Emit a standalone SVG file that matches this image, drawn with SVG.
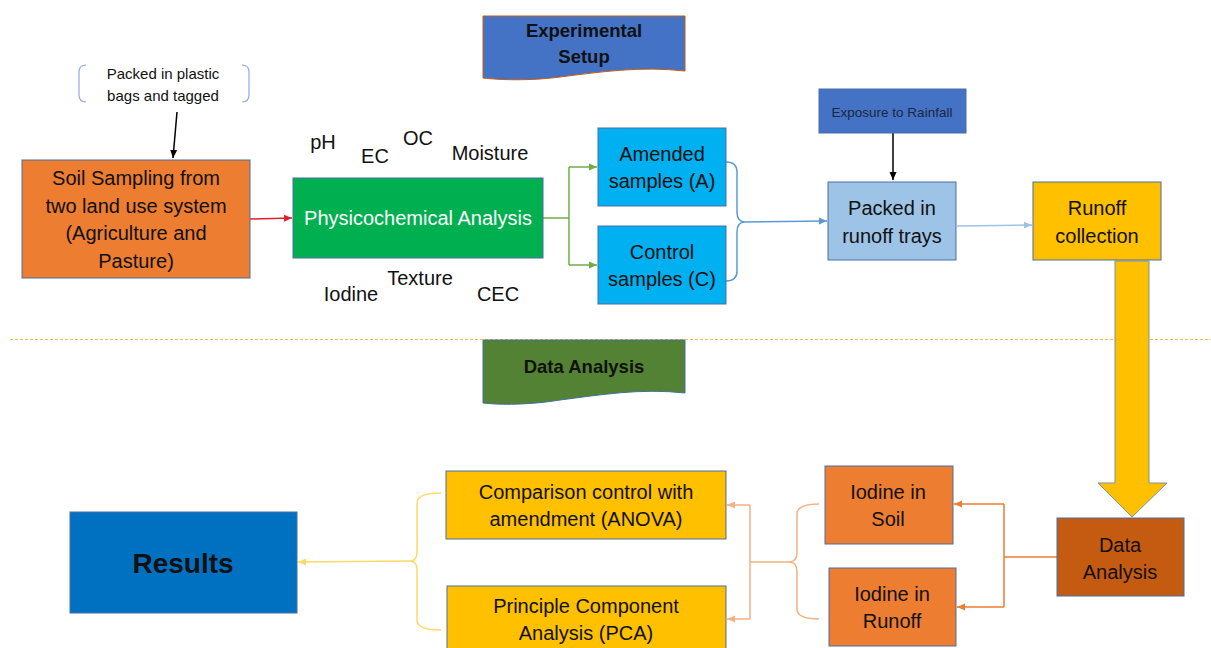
<svg xmlns="http://www.w3.org/2000/svg" width="1211" height="648" viewBox="0 0 1211 648">
<defs>
<style>
text{font-family:"Liberation Sans",Arial,sans-serif;text-anchor:middle;dominant-baseline:central;fill:#111}
.box{stroke:#4a6fa5;stroke-width:1}
.t20{font-size:20px}
.lbl{font-size:20px;fill:#111}
.ban{font-size:18.5px;font-weight:bold}
.c{fill:none}
</style>
<marker id="aBlack" markerWidth="10" markerHeight="10" refX="8" refY="5" orient="auto" markerUnits="userSpaceOnUse"><path d="M0,1.5 L8,5 L0,8.5 Z" fill="#000"/></marker>
<marker id="aRed" markerWidth="10" markerHeight="10" refX="8" refY="5" orient="auto" markerUnits="userSpaceOnUse"><path d="M0,1.5 L8,5 L0,8.5 Z" fill="#e0202a"/></marker>
<marker id="aGreen" markerWidth="10" markerHeight="10" refX="8" refY="5" orient="auto" markerUnits="userSpaceOnUse"><path d="M0,1.5 L8,5 L0,8.5 Z" fill="#70ad47"/></marker>
<marker id="aBlue" markerWidth="10" markerHeight="10" refX="8" refY="5" orient="auto" markerUnits="userSpaceOnUse"><path d="M0,1.5 L8,5 L0,8.5 Z" fill="#5b9bd5"/></marker>
<marker id="aLBlue" markerWidth="10" markerHeight="10" refX="8" refY="5" orient="auto" markerUnits="userSpaceOnUse"><path d="M0,1.5 L8,5 L0,8.5 Z" fill="#9dc3e6"/></marker>
<marker id="aOrange" markerWidth="10" markerHeight="10" refX="8" refY="5" orient="auto" markerUnits="userSpaceOnUse"><path d="M0,1.5 L8,5 L0,8.5 Z" fill="#ed7d31"/></marker>
<marker id="aPeach" markerWidth="10" markerHeight="10" refX="8" refY="5" orient="auto" markerUnits="userSpaceOnUse"><path d="M0,1.5 L8,5 L0,8.5 Z" fill="#f4b183"/></marker>
<marker id="aYellow" markerWidth="10" markerHeight="10" refX="8" refY="5" orient="auto" markerUnits="userSpaceOnUse"><path d="M0,1.5 L8,5 L0,8.5 Z" fill="#ffd966"/></marker>
</defs>
<rect width="1211" height="648" fill="#fff"/>

<line x1="10" y1="339.5" x2="1211" y2="339.5" stroke="#f5bd4a" stroke-width="1" stroke-dasharray="3 2"/>

<g id="banner-experimental">
<path d="M483 16 H685 V71 C640 66 600 72 560 77 C530 81 500 80 483 78 Z" fill="#4472c4" stroke="#c55a11" stroke-width="1"/>
<text class="ban" x="584" y="30">Experimental</text>
<text class="ban" x="584" y="56">Setup</text>
</g>

<g id="banner-data-analysis">
<path d="M483 340 H685 V393 C640 388 600 395 560 400 C530 405 500 405 483 403 Z" fill="#548235" stroke="#41719c" stroke-width="1"/>
<text class="ban" x="584" y="366">Data Analysis</text>
</g>

<g id="note-bags">
<path class="c" d="M86 65 Q79 65 79 72 V95 Q79 102 86 102" stroke="#8faadc" stroke-width="1.2"/>
<path class="c" d="M242 65 Q249 65 249 72 V95 Q249 102 242 102" stroke="#8faadc" stroke-width="1.2"/>
<text x="163" y="73" font-size="15" fill="#222">Packed in plastic</text>
<text x="163" y="95" font-size="15" fill="#222">bags and tagged</text>
</g>

<g id="params">
<text class="lbl" x="323" y="142">pH</text>
<text class="lbl" x="375" y="156">EC</text>
<text class="lbl" x="418" y="138">OC</text>
<text class="lbl" x="490" y="153">Moisture</text>
<text class="lbl" x="420" y="278">Texture</text>
<text class="lbl" x="351" y="294">Iodine</text>
<text class="lbl" x="498" y="294">CEC</text>
</g>

<g id="connectors" fill="none" stroke-width="1.5">
<line x1="177" y1="112" x2="173" y2="158" stroke="#000" marker-end="url(#aBlack)"/>
<line x1="250" y1="219" x2="292" y2="218" stroke="#e0202a" marker-end="url(#aRed)"/>
<path d="M543 218 H569" stroke="#70ad47"/>
<path d="M569 167 V265" stroke="#70ad47"/>
<path d="M569 167 H597" stroke="#70ad47" marker-end="url(#aGreen)"/>
<path d="M569 265 H597" stroke="#70ad47" marker-end="url(#aGreen)"/>
<path d="M726 162 Q737 162 737 172 V212 Q737 222 745 222 Q737 222 737 232 V271 Q737 281 726 281" stroke="#5b9bd5"/>
<path d="M745 222 L827 221" stroke="#5b9bd5" marker-end="url(#aBlue)"/>
<line x1="893" y1="133" x2="893" y2="180" stroke="#000" marker-end="url(#aBlack)"/>
<line x1="957" y1="226" x2="1032" y2="225" stroke="#9dc3e6" marker-end="url(#aLBlue)"/>
<path d="M1057 557 H1004" stroke="#ed7d31"/>
<path d="M1004 504 V607" stroke="#ed7d31"/>
<path d="M1004 504 H954" stroke="#ed7d31" marker-end="url(#aOrange)"/>
<path d="M1004 607 H957" stroke="#ed7d31" marker-end="url(#aOrange)"/>
<path d="M819 504 Q797 504 797 514 V552 Q797 562 789 562 Q797 562 797 572 V609 Q797 619 819 619" stroke="#f4b183"/>
<path d="M789 562 H750" stroke="#f4b183"/>
<path d="M750 505 V619" stroke="#f4b183"/>
<path d="M750 505 H727" stroke="#f4b183" marker-end="url(#aPeach)"/>
<path d="M750 619 H727" stroke="#f4b183" marker-end="url(#aPeach)"/>
<path d="M441 493 Q417 493 417 503 V552 Q417 561 410 561 Q417 561 417 570 V620 Q417 630 441 630" stroke="#ffd966"/>
<path d="M410 561 L298 562" stroke="#ffd966" marker-end="url(#aYellow)"/>
<path d="M1115 261 V483 H1098 L1132 517 L1167 483 H1149 V261 Z" fill="#ffc000" stroke="#7f8fa6" stroke-width="1"/>
</g>

<g id="soil-sampling">
<rect class="box" x="22" y="160" width="228" height="118" fill="#ed7d31"/>
<text class="t20" x="136" y="178">Soil Sampling from</text>
<text class="t20" x="136" y="206">two land use system</text>
<text class="t20" x="136" y="233">(Agriculture and</text>
<text class="t20" x="136" y="261">Pasture)</text>
</g>

<g id="physicochemical">
<rect class="box" x="293" y="178" width="250" height="80" fill="#00b050"/>
<text class="t20" x="418" y="218" style="fill:#fff">Physicochemical Analysis</text>
</g>

<g id="amended">
<rect class="box" x="598" y="128" width="128" height="78" fill="#00b0f0"/>
<text class="t20" x="662" y="154">Amended</text>
<text class="t20" x="662" y="181">samples (A)</text>
</g>

<g id="control">
<rect class="box" x="598" y="226" width="128" height="78" fill="#00b0f0"/>
<text class="t20" x="662" y="252">Control</text>
<text class="t20" x="662" y="279">samples (C)</text>
</g>

<g id="rainfall">
<rect class="box" x="819" y="89" width="147" height="44" fill="#4472c4"/>
<text x="892" y="112" font-size="13.5" style="fill:#1a2740">Exposure to Rainfall</text>
</g>

<g id="runoff-trays">
<rect class="box" x="828" y="182" width="128" height="78" fill="#9dc3e6"/>
<text class="t20" x="892" y="208">Packed in</text>
<text class="t20" x="892" y="236">runoff trays</text>
</g>

<g id="runoff-collection">
<rect class="box" x="1033" y="182" width="128" height="78" fill="#ffc000"/>
<text class="t20" x="1097" y="208">Runoff</text>
<text class="t20" x="1097" y="236">collection</text>
</g>

<g id="data-analysis">
<rect class="box" x="1057" y="518" width="127" height="78" fill="#c55a11"/>
<text class="t20" x="1120" y="545">Data</text>
<text class="t20" x="1120" y="572">Analysis</text>
</g>

<g id="iodine-soil">
<rect class="box" x="825" y="466" width="128" height="78" fill="#ed7d31"/>
<text class="t20" x="888" y="492">Iodine in</text>
<text class="t20" x="888" y="519">Soil</text>
</g>

<g id="iodine-runoff">
<rect class="box" x="829" y="568" width="127" height="78" fill="#ed7d31"/>
<text class="t20" x="892" y="594">Iodine in</text>
<text class="t20" x="892" y="621">Runoff</text>
</g>

<g id="anova">
<rect class="box" x="446" y="471" width="280" height="68" fill="#ffc000"/>
<text class="t20" x="586" y="492">Comparison control with</text>
<text class="t20" x="586" y="519">amendment (ANOVA)</text>
</g>

<g id="pca">
<rect class="box" x="447" y="586" width="279" height="70" fill="#ffc000"/>
<text class="t20" x="586" y="606">Principle Component</text>
<text class="t20" x="586" y="633">Analysis (PCA)</text>
</g>

<g id="results">
<rect class="box" x="70" y="512" width="227" height="101" fill="#0070c0"/>
<text x="183" y="563" font-size="28" font-weight="bold">Results</text>
</g>
</svg>
